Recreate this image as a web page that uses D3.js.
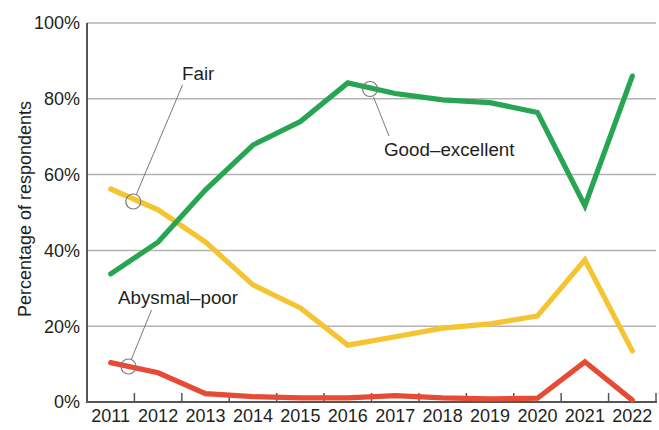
<!DOCTYPE html>
<html><head><meta charset="utf-8">
<script src="https://cdn.jsdelivr.net/npm/d3@7"></script>
<style>
html,body{margin:0;padding:0;background:#fff;}
svg text{font-family:"Liberation Sans",Arial,sans-serif;fill:#231f20;}
</style></head>
<body>
<svg id="chart" width="659" height="430"></svg>
<script>
const years = ["2011","2012","2013","2014","2015","2016","2017","2018","2019","2020","2021","2022"];
const goodExcellent = [33.8, 42.2, 56, 67.8, 74, 84.2, 81.4, 79.7, 79, 76.4, 51.8, 86];
const fair = [56.2, 50.7, 42.2, 30.9, 24.8, 15, 17.2, 19.5, 20.6, 22.7, 37.5, 13.5];
const abysmalPoor = [10.4, 7.7, 2.2, 1.4, 1.1, 1.1, 1.7, 1.1, 0.8, 1.0, 10.6, 0.5];
const yTicks = [0, 20, 40, 60, 80, 100];

const svg = d3.select("#chart");
const L = 87, R = 656, T = 23, B = 402;
const x = d3.scaleBand().domain(years).range([L, R]).padding(0);
const y = d3.scaleLinear().domain([0, 100]).range([B, T]);
const cx = d => x(d) + x.bandwidth() / 2;

// gridlines
svg.append("g").selectAll("line").data(yTicks.filter(d => d > 0)).join("line")
  .attr("x1", L).attr("x2", R).attr("y1", d => y(d)).attr("y2", d => y(d))
  .attr("stroke", "#b3b3b3").attr("stroke-width", 1.5);

// y labels
svg.append("g").selectAll("text").data(yTicks).join("text")
  .attr("x", 80).attr("y", d => y(d)).attr("dy", "0.36em")
  .attr("text-anchor", "end").attr("font-size", 18)
  .text(d => d + "%");

// y title
svg.append("text").attr("transform", `translate(31,209) rotate(-90)`)
  .attr("text-anchor", "middle").attr("font-size", 18).text("Percentage of respondents");

// x axis line & ticks
const boundaries = years.map(d => x(d) + x.bandwidth());
svg.append("g").selectAll("line").data(boundaries).join("line")
  .attr("x1", d => d).attr("x2", d => d).attr("y1", B).attr("y2", B - 9)
  .attr("stroke", "#555").attr("stroke-width", 1.5);
svg.append("line").attr("x1", L).attr("x2", R + 1).attr("y1", B).attr("y2", B)
  .attr("stroke", "#555").attr("stroke-width", 2);
svg.append("line").attr("x1", L).attr("x2", L).attr("y1", T).attr("y2", B + 1)
  .attr("stroke", "#555").attr("stroke-width", 2);

// x labels
svg.append("g").selectAll("text").data(years).join("text")
  .attr("x", d => cx(d)).attr("y", 422).attr("text-anchor", "middle")
  .attr("font-size", 18).text(d => d);

// lines
const line = d3.line().x((d, i) => cx(years[i])).y(d => y(d));
const series = [
  {vals: fair, color: "#f5c431"},
  {vals: abysmalPoor, color: "#e64b35"},
  {vals: goodExcellent, color: "#27a552"}
];
series.forEach(s => {
  svg.append("path").attr("d", line(s.vals)).attr("fill", "none")
    .attr("stroke", s.color).attr("stroke-width", 5.2)
    .attr("stroke-linejoin", "miter").attr("stroke-linecap", "round");
});

// annotations
const ann = [
  {label: "Fair", circle: [133.3, 201.5], line: [[136.5, 194], [182.5, 85]], text: [182, 80], anchor: "start"},
  {label: "Good\u2013excellent", circle: [370, 89], line: [[373.5, 97], [389, 136]], text: [384, 156], anchor: "start"},
  {label: "Abysmal\u2013poor", circle: [128.5, 366.5], line: [[131.5, 359], [151.5, 310]], text: [118, 304], anchor: "start"}
];
ann.forEach(a => {
  svg.append("circle").attr("cx", a.circle[0]).attr("cy", a.circle[1]).attr("r", 7.5)
    .attr("fill", "none").attr("stroke", "#7a7a7a").attr("stroke-width", 1.2);
  svg.append("line").attr("x1", a.line[0][0]).attr("y1", a.line[0][1])
    .attr("x2", a.line[1][0]).attr("y2", a.line[1][1])
    .attr("stroke", "#7a7a7a").attr("stroke-width", 1);
  svg.append("text").attr("x", a.text[0]).attr("y", a.text[1])
    .attr("text-anchor", a.anchor).attr("font-size", 18.8).text(a.label);
});
</script>
</body></html>
